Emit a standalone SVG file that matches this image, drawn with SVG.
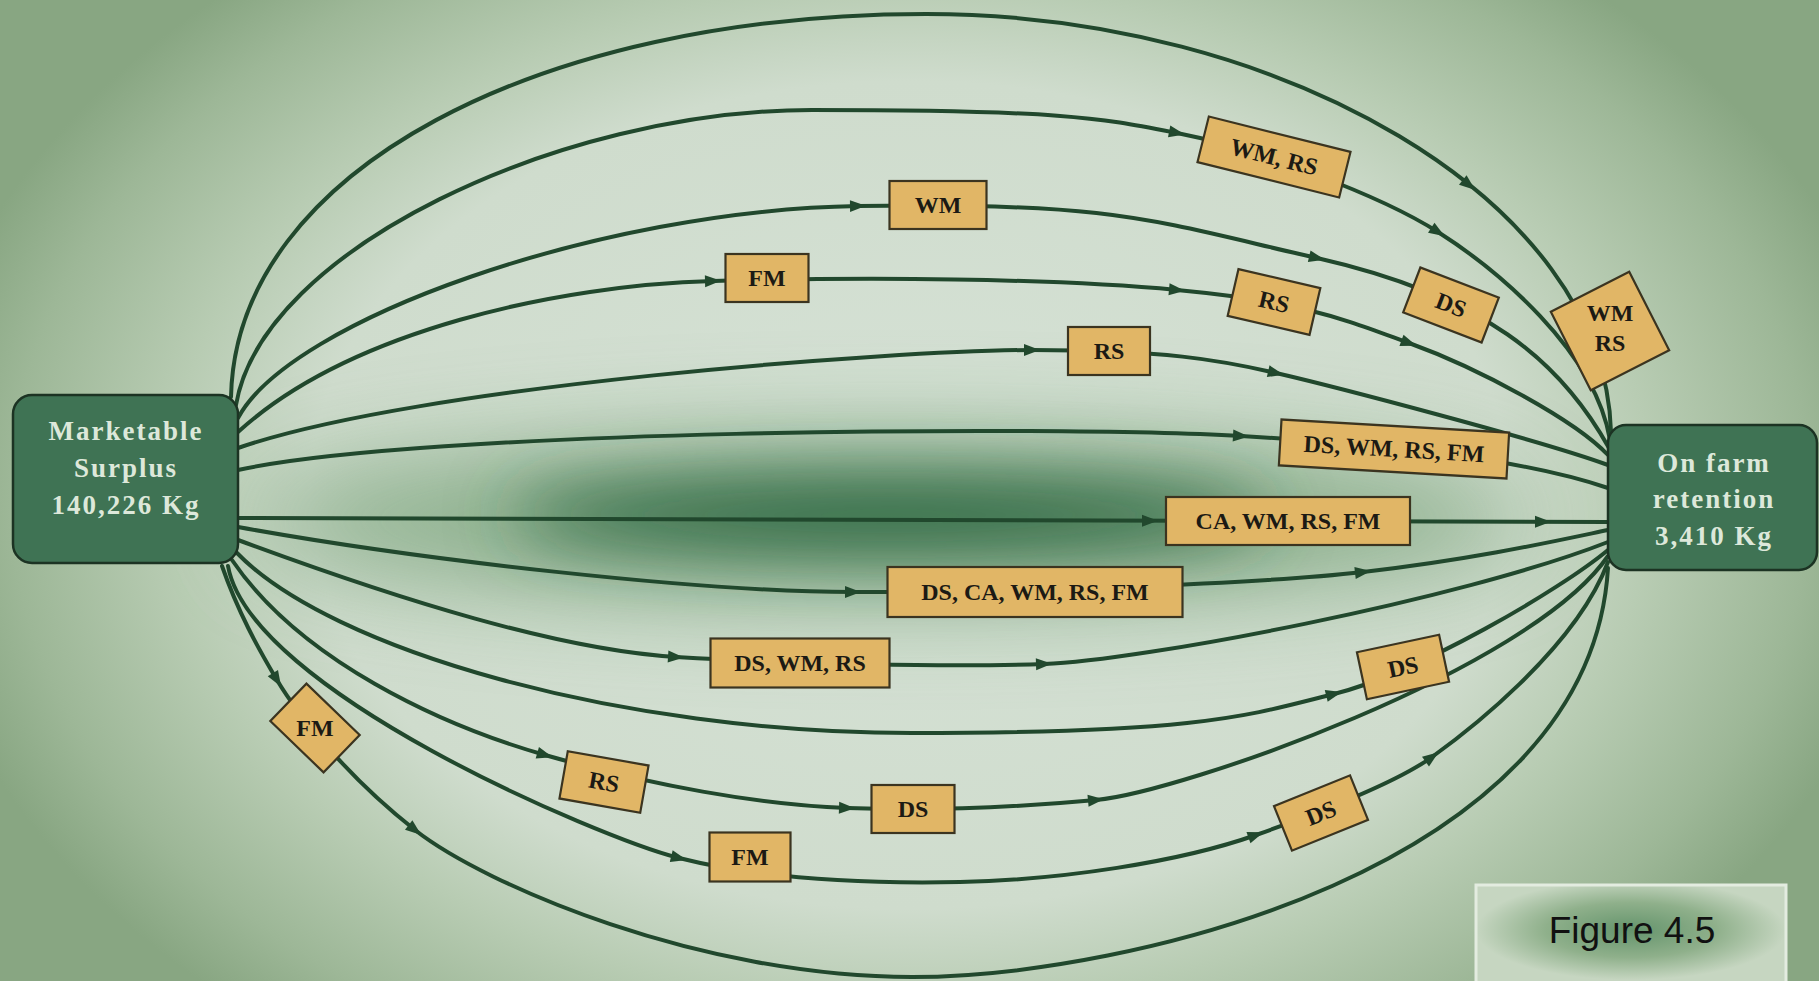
<svg xmlns="http://www.w3.org/2000/svg" width="1819" height="981" viewBox="0 0 1819 981">
  <defs>
    <radialGradient id="bgGrad" gradientUnits="userSpaceOnUse" cx="910" cy="495" r="1000" gradientTransform="translate(910 495) scale(1 0.69) translate(-910 -495)">
      <stop offset="0" stop-color="#d6e2d6"/>
      <stop offset="0.6" stop-color="#cfdccd"/>
      <stop offset="0.74" stop-color="#b8ccb3"/>
      <stop offset="0.9" stop-color="#9db797"/>
      <stop offset="1" stop-color="#88a682"/>
    </radialGradient>
    <radialGradient id="figGrad" cx="0.5" cy="0.45" r="0.5">
      <stop offset="0" stop-color="#64946c"/>
      <stop offset="0.55" stop-color="#8fb08b"/>
      <stop offset="1" stop-color="#c6d6c1"/>
    </radialGradient>
    <filter id="haze" x="-50%" y="-300%" width="200%" height="700%">
      <feGaussianBlur stdDeviation="34"/>
    </filter>
    <filter id="hazeWide" x="-50%" y="-300%" width="200%" height="700%">
      <feGaussianBlur stdDeviation="50"/>
    </filter>
    <path id="ah" d="M8,0 L-8,-6 L-8,6 Z"/>
    <style>
      .conn { fill: none; stroke: #21482d; stroke-width: 4; stroke-linecap: round; }
      .arrows use { fill: #21482d; }
      .lbl rect { fill: #e1b666; stroke: #3b3420; stroke-width: 2.2; }
      .lbl text { font-family: "Liberation Serif", "Times New Roman", serif; font-weight: bold; font-size: 24px; fill: #1c1a14; text-anchor: middle; }
      .node rect { fill: #3f7354; stroke: #1c3323; stroke-width: 2.5; }
      .node text { font-family: "Liberation Serif", "Times New Roman", serif; font-weight: bold; font-size: 27px; fill: #dde8da; letter-spacing: 2px; text-anchor: middle; }
      .fig text { font-family: "Liberation Sans", Arial, sans-serif; font-size: 37px; fill: #111111; text-anchor: middle; }
    </style>
  </defs>

  <!-- background with green vignette and dark central band -->
  <rect x="0" y="0" width="1819" height="981" fill="url(#bgGrad)"/>
  <ellipse cx="890" cy="520" rx="640" ry="80" fill="#76a077" opacity="0.8" filter="url(#hazeWide)"/>
  <ellipse cx="890" cy="515" rx="380" ry="36" fill="#2a6540" filter="url(#haze)"/>

  <!-- connectors -->
  <g id="connectors">
    <path class="conn" d="M231,397 C236,170 540,14 926,14 C1280,14 1605,200 1611,432"/>
    <path class="conn" d="M236,405 C262,250 560,110 812,110 S1100,118 1177,133 S1380,195 1438,232 S1595,350 1610,440"/>
    <path class="conn" d="M238,418 C290,320 600,210 858,206 S1150,220 1317,258 S1560,360 1609,448"/>
    <path class="conn" d="M238,432 C350,330 560,285 713,281 S1050,278 1177,290 S1340,318 1409,343 S1575,420 1608,455"/>
    <path class="conn" d="M238,448 C420,385 900,350 1032,350 S1220,360 1276,373 S1540,440 1608,465"/>
    <path class="conn" d="M238,470 C420,430 1050,425 1241,436 S1540,465 1608,488"/>
    <path class="conn" d="M238,518 L1608,522"/>
    <path class="conn" d="M238,527 C420,560 700,592 853,592 S1250,585 1363,572 S1560,540 1608,530"/>
    <path class="conn" d="M238,540 C400,600 560,650 676,657 S950,667 1044,664 S1460,600 1608,542"/>
    <path class="conn" d="M236,552 C330,650 620,733 912,733 S1250,715 1334,694 S1560,590 1608,550"/>
    <path class="conn" d="M232,560 C300,660 440,725 545,755 S760,805 847,808 S1010,808 1096,800 S1530,670 1608,556"/>
    <path class="conn" d="M228,566 C250,690 600,838 679,858 S860,884 960,882 S1180,862 1256,835 S1400,780 1432,757 S1575,650 1608,562"/>
    <path class="conn" d="M222,566 C238,612 258,648 277,680 S345,775 415,830 S700,977 912,977 S1590,870 1608,568"/>
    <g class="arrows">
      <use href="#ah" transform="translate(1469 185) rotate(39)"/>
      <use href="#ah" transform="translate(1177 133) rotate(11)"/>
      <use href="#ah" transform="translate(1438 232) rotate(32.5)"/>
      <use href="#ah" transform="translate(858 206) rotate(-0.9)"/>
      <use href="#ah" transform="translate(1317 258) rotate(12.8)"/>
      <use href="#ah" transform="translate(713 281) rotate(-1.5)"/>
      <use href="#ah" transform="translate(1177 290) rotate(5.4)"/>
      <use href="#ah" transform="translate(1409 343) rotate(19.9)"/>
      <use href="#ah" transform="translate(1032 350) rotate(0)"/>
      <use href="#ah" transform="translate(1276 373) rotate(13)"/>
      <use href="#ah" transform="translate(1241 436) rotate(3.3)"/>
      <use href="#ah" transform="translate(1150 520.7) rotate(0.2)"/>
      <use href="#ah" transform="translate(1543 521.8) rotate(0.2)"/>
      <use href="#ah" transform="translate(853 592) rotate(0)"/>
      <use href="#ah" transform="translate(1363 572) rotate(-6.6)"/>
      <use href="#ah" transform="translate(676 657) rotate(3.5)"/>
      <use href="#ah" transform="translate(1044 664) rotate(-1.8)"/>
      <use href="#ah" transform="translate(1334 694) rotate(-14)"/>
      <use href="#ah" transform="translate(545 755) rotate(16)"/>
      <use href="#ah" transform="translate(847 808) rotate(2)"/>
      <use href="#ah" transform="translate(1096 800) rotate(-5.3)"/>
      <use href="#ah" transform="translate(679 858) rotate(14)"/>
      <use href="#ah" transform="translate(1256 835) rotate(-19.6)"/>
      <use href="#ah" transform="translate(1432 757) rotate(-35.7)"/>
      <use href="#ah" transform="translate(277 680) rotate(59)"/>
      <use href="#ah" transform="translate(415 830) rotate(38)"/>
    </g>
  </g>

  <!-- channel labels -->
  <g id="lbl-wm-rs" class="lbl" transform="translate(1274 157) rotate(14)"><rect x="-73" y="-23.5" width="146" height="47"/><text y="8">WM, RS</text></g>
  <g id="lbl-wm" class="lbl" transform="translate(938 205)"><rect x="-48.5" y="-24" width="97" height="48"/><text y="8">WM</text></g>
  <g id="lbl-fm-top" class="lbl" transform="translate(767 278)"><rect x="-41.5" y="-24" width="83" height="48"/><text y="8">FM</text></g>
  <g id="lbl-rs-upper" class="lbl" transform="translate(1274 302) rotate(13)"><rect x="-42" y="-24" width="84" height="48"/><text y="8">RS</text></g>
  <g id="lbl-ds-upper" class="lbl" transform="translate(1451 305) rotate(21)"><rect x="-42" y="-24" width="84" height="48"/><text y="8">DS</text></g>
  <g id="lbl-wm-rs-diamond" class="lbl" transform="translate(1610 331)"><rect x="-44" y="-44" width="88" height="88" transform="rotate(-27)"/><text y="-10">WM</text><text y="20">RS</text></g>
  <g id="lbl-rs-mid" class="lbl" transform="translate(1109 351)"><rect x="-41" y="-24" width="82" height="48"/><text y="8">RS</text></g>
  <g id="lbl-ds-wm-rs-fm" class="lbl" transform="translate(1394 449) rotate(3.3)"><rect x="-114" y="-23" width="228" height="46"/><text y="8">DS, WM, RS, FM</text></g>
  <g id="lbl-ca-wm-rs-fm" class="lbl" transform="translate(1288 521)"><rect x="-122" y="-24" width="244" height="48"/><text y="8">CA, WM, RS, FM</text></g>
  <g id="lbl-ds-ca-wm-rs-fm" class="lbl" transform="translate(1035 592)"><rect x="-147.5" y="-25" width="295" height="50"/><text y="8">DS, CA, WM, RS, FM</text></g>
  <g id="lbl-ds-wm-rs" class="lbl" transform="translate(800 663)"><rect x="-89.5" y="-24.5" width="179" height="49"/><text y="8">DS, WM, RS</text></g>
  <g id="lbl-ds-right" class="lbl" transform="translate(1403 667) rotate(-12)"><rect x="-42" y="-24" width="84" height="48"/><text y="8">DS</text></g>
  <g id="lbl-fm-diamond" class="lbl" transform="translate(315 728)"><rect x="-37" y="-26" width="74" height="52" transform="rotate(44)"/><text y="8">FM</text></g>
  <g id="lbl-rs-lower" class="lbl" transform="translate(604 782) rotate(10)"><rect x="-41" y="-24" width="82" height="48"/><text y="8">RS</text></g>
  <g id="lbl-ds-lower" class="lbl" transform="translate(913 809)"><rect x="-41.5" y="-24" width="83" height="48"/><text y="8">DS</text></g>
  <g id="lbl-fm-bottom" class="lbl" transform="translate(750 857)"><rect x="-40.5" y="-24.5" width="81" height="49"/><text y="8">FM</text></g>
  <g id="lbl-ds-bottom" class="lbl" transform="translate(1321 813) rotate(-22)"><rect x="-41" y="-24" width="82" height="48"/><text y="8">DS</text></g>

  <!-- end nodes -->
  <g id="node-surplus" class="node">
    <rect x="13" y="395" width="225" height="168" rx="19"/>
    <text x="126" y="440">Marketable</text>
    <text x="126" y="477">Surplus</text>
    <text x="126" y="514">140,226 Kg</text>
  </g>
  <g id="node-retention" class="node">
    <rect x="1608" y="425" width="209" height="145" rx="18"/>
    <text x="1714" y="472">On farm</text>
    <text x="1714" y="508">retention</text>
    <text x="1714" y="545">3,410 Kg</text>
  </g>

  <!-- figure caption -->
  <g id="caption" class="fig">
    <rect x="1476" y="885" width="310" height="100" fill="url(#figGrad)" stroke="#e3ece0" stroke-width="3"/>
    <text x="1632" y="943">Figure 4.5</text>
  </g>
</svg>
